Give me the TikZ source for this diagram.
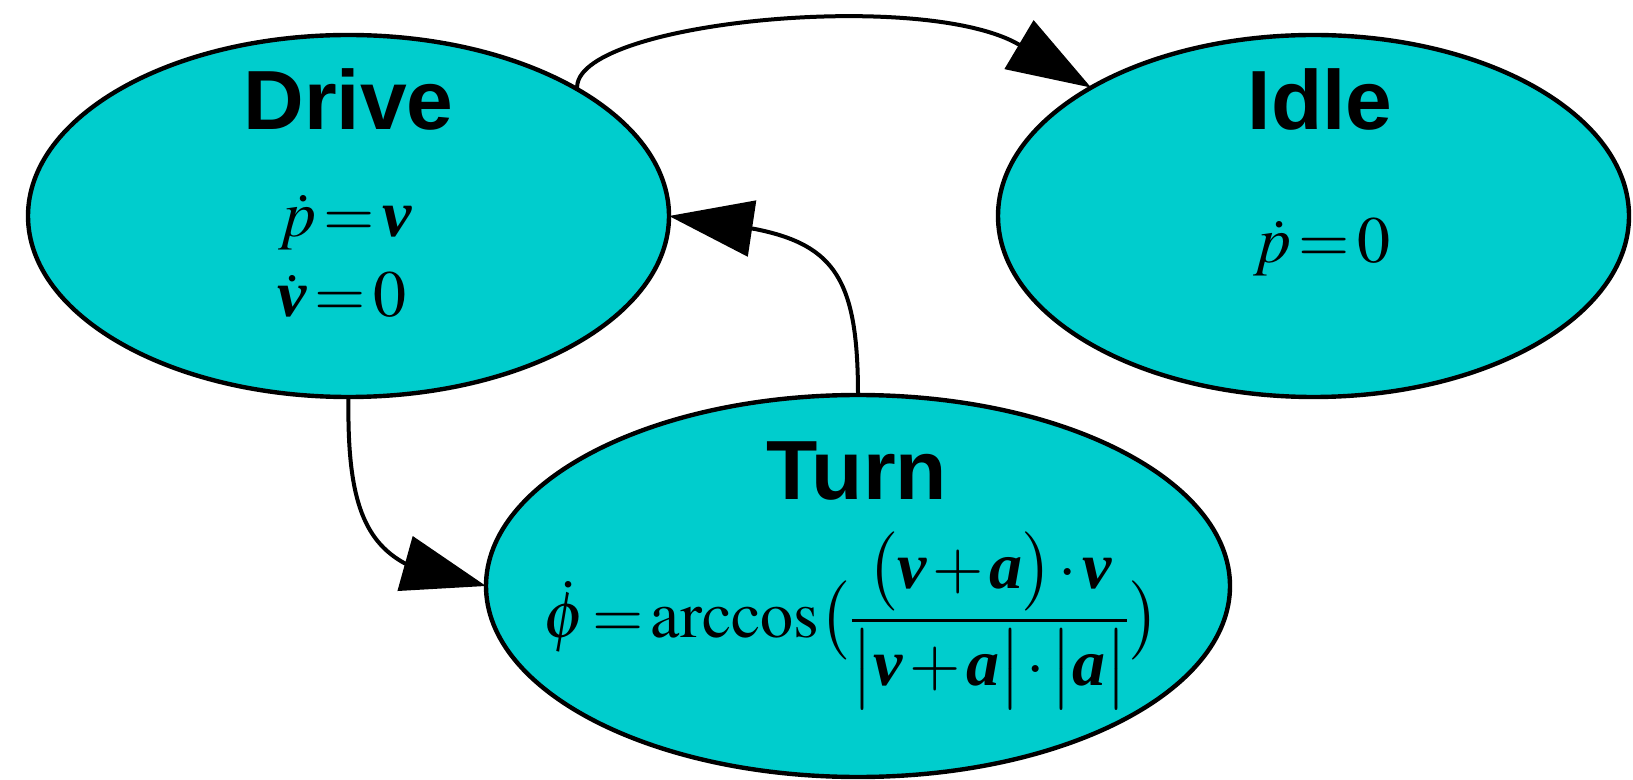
\documentclass[tikz,border=0pt]{standalone}
\usepackage{amsmath}
\usepackage{mathptmx}
\usepackage[no-math]{fontspec}
\setmainfont{Liberation Serif}
\newfontfamily\titlefont{Liberation Sans}
\usetikzlibrary{shapes.geometric,arrows.meta}
\definecolor{statefill}{HTML}{00CDCD}
\newcommand{\bvec}[1]{\textbf{\textit{#1}}}
\newcommand{\tightmath}{\thickmuskip=2mu\relax\medmuskip=1.5mu\relax}
\tikzset{
  state/.style={ellipse, draw=black, line width=2.2pt, fill=statefill, inner sep=0pt, outer sep=0pt},
  title/.style={anchor=base, inner sep=0pt, font=\titlefont\bfseries\fontsize{42}{50}\selectfont},
  eqn/.style={anchor=base, inner sep=0pt, font=\fontsize{33}{40}\selectfont\tightmath},
  edge/.style={line width=2pt, -{Triangle[length=42pt,width=28pt]}},
}
\begin{document}
\begin{tikzpicture}[x=0.5pt,y=-0.5pt]
\useasboundingbox (0,0) rectangle (1633,780);
\node[state, minimum width=320.5pt, minimum height=181pt] (drive) at (348.5,216) {};
\node[state, minimum width=315.5pt, minimum height=181pt] (idle) at (1313.5,216) {};
\node[state, minimum width=372pt, minimum height=191pt] (turn) at (858,586) {};

\node[title] (drivet) at (348.5,130) {Drive};
\node[eqn] (drivee1) at (345,237) {$\dot{p}=\bvec{v}$};
\node[eqn] (drivee2) at (342,317) {$\dot{\bvec{v}}=0$};

\node[title] (idlet) at (1320,130) {Idle};
\node[eqn] (idlee) at (1322,263) {$\dot{p}=0$};

\node[title] (turnt) at (857,500) {Turn};
\node[eqn] (turne) at (851.5,637) {$\dot{\phi}=\arccos\bigl(\dfrac{\bigl(\bvec{v}+\bvec{a}\bigr)\cdot\bvec{v}}{\bigl|\bvec{v}+\bvec{a}\bigr|\cdot\bigl|\bvec{a}\bigr|}\bigr)$};

\coordinate (b2) at (755,229);
\coordinate (b3) at (405,563.5);

\draw[edge] (drive.29.7) .. controls (570,22) and (924,-12) .. (idle.150);
\draw[edge] (turn.north) .. controls (858,280) and (835,245) .. (b2) -- (drive.east);
\draw[edge] (drive.south) .. controls (347,495) and (362,540) .. (b3) -- (turn.west);
\end{tikzpicture}
\end{document}
